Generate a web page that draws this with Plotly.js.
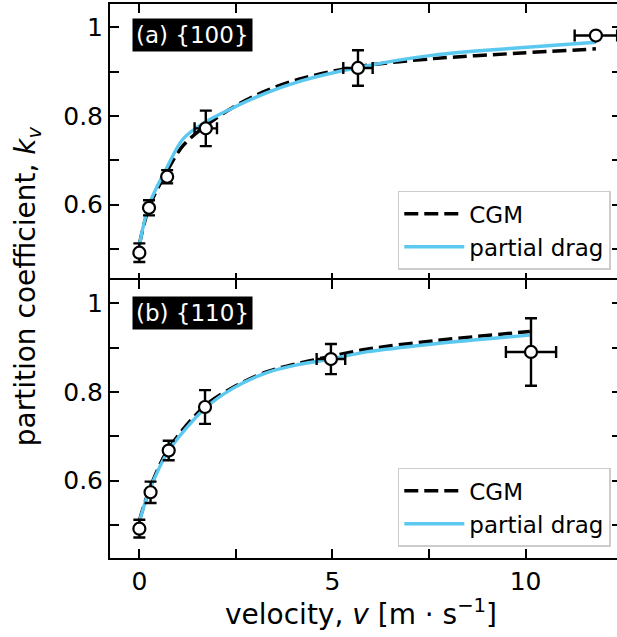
<!DOCTYPE html>
<html>
<head>
<meta charset="utf-8">
<script src="https://cdn.plot.ly/plotly-3.0.1.min.js"></script>
<style>
html,body{margin:0;padding:0;overflow:hidden;background:#fff;}
#chart{width:625px;height:637px;}
</style>
</head>
<body>
<div id="chart"></div>
<script>
// ---- Data: panel (a) {100} ----
const va = [0, 0.25, 0.72, 1.72, 5.66, 11.82];
const ka = [0.492, 0.593, 0.663, 0.772, 0.908, 0.981];
const kaErr = [0.021, 0.017, 0.015, 0.04, 0.04, 0.0];
const vaErr = [0, 0, 0, 0.29, 0.38, 0.55];

const cgmAx = [0, 0.25, 0.72, 1.13, 1.72, 2.42, 3.29, 4.15, 5.66, 7.61, 9.77, 11.82];
const cgmAy = [0.51, 0.594, 0.676, 0.733, 0.778, 0.819, 0.857, 0.883, 0.911, 0.929, 0.941, 0.951];
const pdAx = [0, 0.25, 0.72, 1.13, 1.72, 2.42, 3.29, 4.15, 5.66, 7.61, 9.77, 11.82];
const pdAy = [0.508, 0.6, 0.685, 0.748, 0.787, 0.818, 0.852, 0.878, 0.909, 0.937, 0.953, 0.966];

// ---- Data: panel (b) {110} ----
const vb = [0, 0.29, 0.76, 1.70, 4.96, 10.14];
const kb = [0.492, 0.574, 0.668, 0.766, 0.874, 0.890];
const kbErr = [0.02, 0.024, 0.022, 0.038, 0.034, 0.076];
const vbErr = [0, 0, 0, 0, 0.37, 0.65];

const cgmBx = [0, 0.26, 0.74, 1.69, 2.42, 3.29, 4.15, 4.96, 5.88, 7.61, 10.11];
const cgmBy = [0.51, 0.58, 0.67, 0.768, 0.81, 0.845, 0.865, 0.88, 0.896, 0.915, 0.936];
const pdBx = [0, 0.26, 0.74, 1.69, 2.42, 3.29, 4.15, 4.96, 5.88, 7.61, 10.11];
const pdBy = [0.508, 0.578, 0.665, 0.762, 0.808, 0.843, 0.862, 0.874, 0.89, 0.908, 0.928];

// ---- Ticks / labels ----
const xTickVals = [0, 5, 10];
const xTickText = ['0', '5', '10'];
const xMinorVals = [2.5, 7.5, 12.5];
const yTickVals = [0.6, 0.8, 1.0];
const yTickText = ['0.6', '0.8', '1'];
const yMinorVals = [0.5, 0.7, 0.9];
const seriesNames = ['CGM', 'partial drag'];
const panelLabels = ['(a) {100}', '(b) {110}'];

const FONT = 'DejaVu Sans, sans-serif';
const BLUE = '#5bc8ef';

function lineTrace(x, y, name, xa, ya, lg, dashed) {
  return {
    x: x, y: y, name: name, xaxis: xa, yaxis: ya, legend: lg,
    mode: 'lines', type: 'scatter',
    line: dashed ? {color: '#000', width: 3.5, dash: '14px,6px', shape: 'spline', smoothing: 0.9}
                 : {color: BLUE, width: 3.4, shape: 'spline', smoothing: 0.9},
    hoverinfo: 'skip'
  };
}
function pointTrace(x, y, ex, ey, xa, ya) {
  return {
    x: x, y: y, xaxis: xa, yaxis: ya, mode: 'markers', type: 'scatter', showlegend: false,
    marker: {size: 12, color: '#fff', line: {color: '#000', width: 2.2}},
    error_y: {type: 'data', array: ey, visible: true, color: '#000', thickness: 2.4, width: 6},
    error_x: {type: 'data', array: ex, visible: true, color: '#000', thickness: 2.4, width: 6}
  };
}

const data = [
  lineTrace(cgmAx, cgmAy, seriesNames[0], 'x', 'y', 'legend', true),
  lineTrace(pdAx, pdAy, seriesNames[1], 'x', 'y', 'legend', false),
  pointTrace(va, ka, vaErr, kaErr, 'x', 'y'),
  lineTrace(cgmBx, cgmBy, seriesNames[0], 'x2', 'y2', 'legend2', true),
  lineTrace(pdBx, pdBy, seriesNames[1], 'x2', 'y2', 'legend2', false),
  pointTrace(vb, kb, vbErr, kbErr, 'x2', 'y2')
];

const axCommon = {
  showline: true, linecolor: '#000', linewidth: 2, mirror: 'ticks',
  ticks: 'inside', ticklen: 9, tickwidth: 2, tickcolor: '#000',
  showgrid: false, zeroline: false, tickmode: 'array',
  tickfont: {family: FONT, size: 25, color: '#000'}
};
const minorX = {tickmode: 'array', tickvals: xMinorVals, ticks: 'inside', ticklen: 9, tickwidth: 2, tickcolor: '#000', showgrid: false};
const minorY = {tickmode: 'array', tickvals: yMinorVals, ticks: 'inside', ticklen: 9, tickwidth: 2, tickcolor: '#000', showgrid: false};
const xRange = [-0.76, 12.47];
const yRange = [0.426, 1.052];
const ov = 1 / 554;

const legendCommon = {
  xref: 'paper', yref: 'paper', x: 0.98, xanchor: 'right', yanchor: 'bottom',
  bgcolor: '#fff', bordercolor: '#cccccc', borderwidth: 1.5,
  font: {family: FONT, size: 23, color: '#000'}, tracegroupgap: 0, itemwidth: 60
};

const layout = {
  width: 625, height: 637,
  margin: {l: 110, r: 4, t: 4, b: 79},
  paper_bgcolor: '#fff', plot_bgcolor: '#fff',
  font: {family: FONT, color: '#000'},
  xaxis: Object.assign({}, axCommon, {range: xRange, anchor: 'y', tickvals: xTickVals, ticktext: xTickText, showticklabels: false, minor: minorX}),
  yaxis: Object.assign({}, axCommon, {range: yRange, domain: [0.5 - ov, 1], anchor: 'x', tickvals: yTickVals, ticktext: yTickText, minor: minorY}),
  xaxis2: Object.assign({}, axCommon, {range: xRange, anchor: 'y2', matches: 'x', tickvals: xTickVals, ticktext: xTickText, minor: minorX}),
  yaxis2: Object.assign({}, axCommon, {range: yRange, domain: [0, 0.5 + ov], anchor: 'x2', tickvals: yTickVals, ticktext: yTickText, minor: minorY}),
  legend: Object.assign({}, legendCommon, {y: 0.52}),
  legend2: Object.assign({}, legendCommon, {y: 0.02}),
  annotations: [
    {text: panelLabels[0], xref: 'paper', yref: 'paper', x: 0.043, y: 0.975, xanchor: 'left', yanchor: 'top',
     showarrow: false, bgcolor: '#000', borderpad: 3, font: {family: FONT, size: 23, color: '#fff'}},
    {text: panelLabels[1], xref: 'paper', yref: 'paper', x: 0.043, y: 0.473, xanchor: 'left', yanchor: 'top',
     showarrow: false, bgcolor: '#000', borderpad: 3, font: {family: FONT, size: 23, color: '#fff'}},
    {text: 'partition coefficient, <i>k</i><sub><i>v</i></sub>', xref: 'paper', yref: 'paper',
     x: -0.16, y: 0.491, xanchor: 'center', yanchor: 'middle', textangle: -90, showarrow: false,
     font: {family: FONT, size: 28, color: '#000'}},
    {text: 'velocity, <i>v</i> [m · s<sup>−1</sup>]', xref: 'paper', yref: 'paper',
     x: 0.492, y: -0.0975, xanchor: 'center', yanchor: 'middle', showarrow: false,
     font: {family: FONT, size: 28, color: '#000'}}
  ],
  showlegend: true
};

Plotly.newPlot('chart', data, layout, {displayModeBar: false, staticPlot: true});
</script>
</body>
</html>
